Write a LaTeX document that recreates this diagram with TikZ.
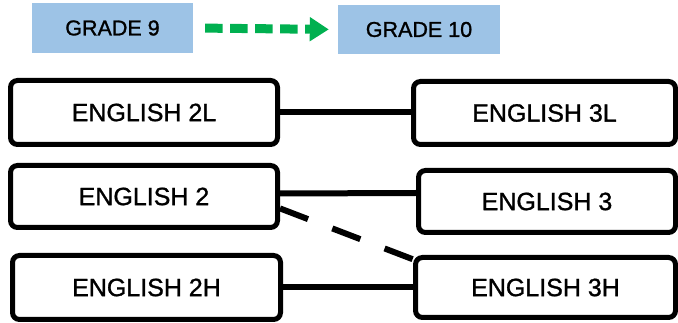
\documentclass[tikz,border=0pt]{standalone}
\usepackage{fontspec}
\setmainfont{Liberation Sans}
\newfontfamily\labelfont{Liberation Sans}[FakeBold=1.2]
\usetikzlibrary{arrows.meta}
\definecolor{gradeblue}{HTML}{9DC3E6}
\definecolor{arrowgreen}{HTML}{00B050}
\tikzstyle{course}=[draw=black,line width=5pt,rounded corners=7pt,fill=white,inner sep=0pt,font=\labelfont\fontsize{25}{30}\selectfont]
\tikzstyle{grade}=[fill=gradeblue,inner sep=0pt,font=\labelfont\fontsize{21.5}{26}\selectfont]
\tikzstyle{link}=[line width=6pt]

\begin{document}
\begin{tikzpicture}[x=1pt,y=-1pt]
	\useasboundingbox (0,0) rectangle (678,323);
	% grade headers
	\node[grade,minimum width=161pt,minimum height=50pt] (g9) at (112.5,28) {GRADE 9};
	\node[grade,minimum width=162pt,minimum height=49pt] (g10) at (419,29.5) {GRADE 10};
	\draw[arrowgreen,line width=9pt,dash pattern=on 17.5pt off 7.5pt,
		shorten <=12pt,shorten >=9pt,-{Triangle[width=23pt,length=19pt]}]
		(g9.east) -- (g10.west);
	% grade 9 courses
	\node[course,minimum width=267pt,minimum height=64pt] (e2l) at (144,112.5) {ENGLISH 2L};
	\node[course,minimum width=267pt,minimum height=62pt] (e2) at (144,196.5) {ENGLISH 2};
	\node[course,minimum width=268pt,minimum height=64pt] (e2h) at (146.5,287.5) {ENGLISH 2H};
	% grade 10 courses
	\node[course,minimum width=262pt,minimum height=63pt] (e3l) at (544.5,113) {ENGLISH 3L};
	\node[course,minimum width=257pt,minimum height=62pt] (e3) at (547,201.5) {ENGLISH 3};
	\node[course,minimum width=260pt,minimum height=60pt] (e3h) at (545.5,287.5) {ENGLISH 3H};
	% paths
	\draw[link] (e2l.east) -- (e2l.east -| e3l.west);
	\draw[link] (e2.east) ++(0,-3) -- (e3.west |- 0,193);
	\draw[link] (e2h.east) -- (e2h.east -| e3h.west);
	\draw[link,dash pattern=on 30pt off 26pt] (e2.-5) -- (e3h.168);
\end{tikzpicture}
\end{document}
